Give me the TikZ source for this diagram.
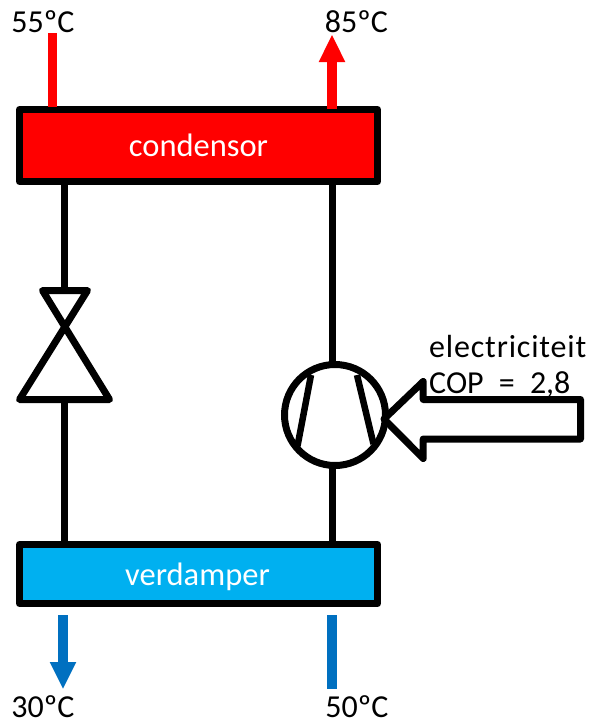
\documentclass[tikz,border=0pt]{standalone}
\usepackage{fontspec}
\setmainfont{Carlito}
\newfontfamily\spaced[LetterSpace=2.6]{Carlito}
\newfontfamily\widesp[WordSpace=2.1]{Carlito}
\definecolor{hotred}{HTML}{FF0000}
\definecolor{coldcyan}{HTML}{00B0F0}
\definecolor{flowblue}{HTML}{0070C0}
\tikzset{
  x=1pt,y=-1pt,
  unit/.style={draw=black,line width=7pt,line join=round,minimum width=358pt,inner sep=0pt,outer sep=0pt},
  unitlbl/.style={inner sep=0pt,anchor=base,text=white,font=\fontsize{32.5}{36}\selectfont},
  pipe/.style={draw=black,line width=7pt},
  sym/.style={draw=black,line width=7pt,line join=round,line cap=round},
  blade/.style={draw=black,line width=6.5pt},
  lbl/.style={anchor=base,inner sep=0pt,font=\fontsize{32}{36}\selectfont},
  flowred/.style={draw=hotred,line width=9.5pt},
  flowblu/.style={draw=flowblue,line width=9.5pt},
}
\begin{document}
\begin{tikzpicture}
\useasboundingbox (0,0) rectangle (590,723);
% units
\node[unit,fill=hotred,minimum height=72pt] (cond) at (198.5,145.5) {};
\node[unit,fill=coldcyan,minimum height=59pt] (verd) at (198.5,574) {};
\node[unitlbl] (condt) at (198.5,156) {condensor};
\node[unitlbl] (verdt) at (197.5,585) {verdamper};
% valve
\coordinate (vt) at (64.2,290.5);
\coordinate (vb) at (64.2,399.5);
\draw[sym] (42.5,290.5) -- (87.5,290.5) -- (19.5,399.5) -- (109.5,399.5) -- cycle;
% compressor
\node[circle,draw=black,line width=7pt,minimum size=101pt,inner sep=0pt,outer sep=0pt] (comp) at (335,415) {};
\draw[blade] (311,375) -- (297.5,446);
\draw[blade] (357,375) -- (373.5,444);
% pipes
\draw[pipe] (64.2,185) -- (vt);
\draw[pipe] (vb) -- (64.2,541);
\draw[pipe] (332.7,185) -- (332.7,365);
\draw[pipe] (332.7,465) -- (332.7,541);
% electricity arrow
\draw[sym,fill=white] (384,419) -- (423.2,381.5) -- (423.2,399.5) -- (580.5,399.5) -- (580.5,439) -- (423.2,439) -- (423.2,458.5) -- cycle;
% flows
\draw[flowred] (52.3,33) -- (52.3,107);
\draw[flowred] (332,62) -- (332,109);
\fill[hotred] (332,35) -- (345.3,62) -- (318.7,62) -- cycle;
\draw[flowblu] (63,615) -- (63,663);
\fill[flowblue] (63,688.5) -- (76.3,662) -- (49.7,662) -- cycle;
\draw[flowblu] (332,615) -- (332,688.5);
% labels
\node[lbl] (t55) at (43,32) {55ºC};
\node[lbl] (t85) at (356.5,32) {85ºC};
\node[lbl] (t30) at (43,717) {30ºC};
\node[lbl] (t50) at (357,717) {50ºC};
\node[lbl,anchor=base west,font=\fontsize{32}{36}\spaced] (te) at (429,357) {electriciteit};
\node[lbl,anchor=base west,font=\fontsize{32}{36}\widesp] (tc) at (429,393) {COP = 2,8};
\end{tikzpicture}
\end{document}
